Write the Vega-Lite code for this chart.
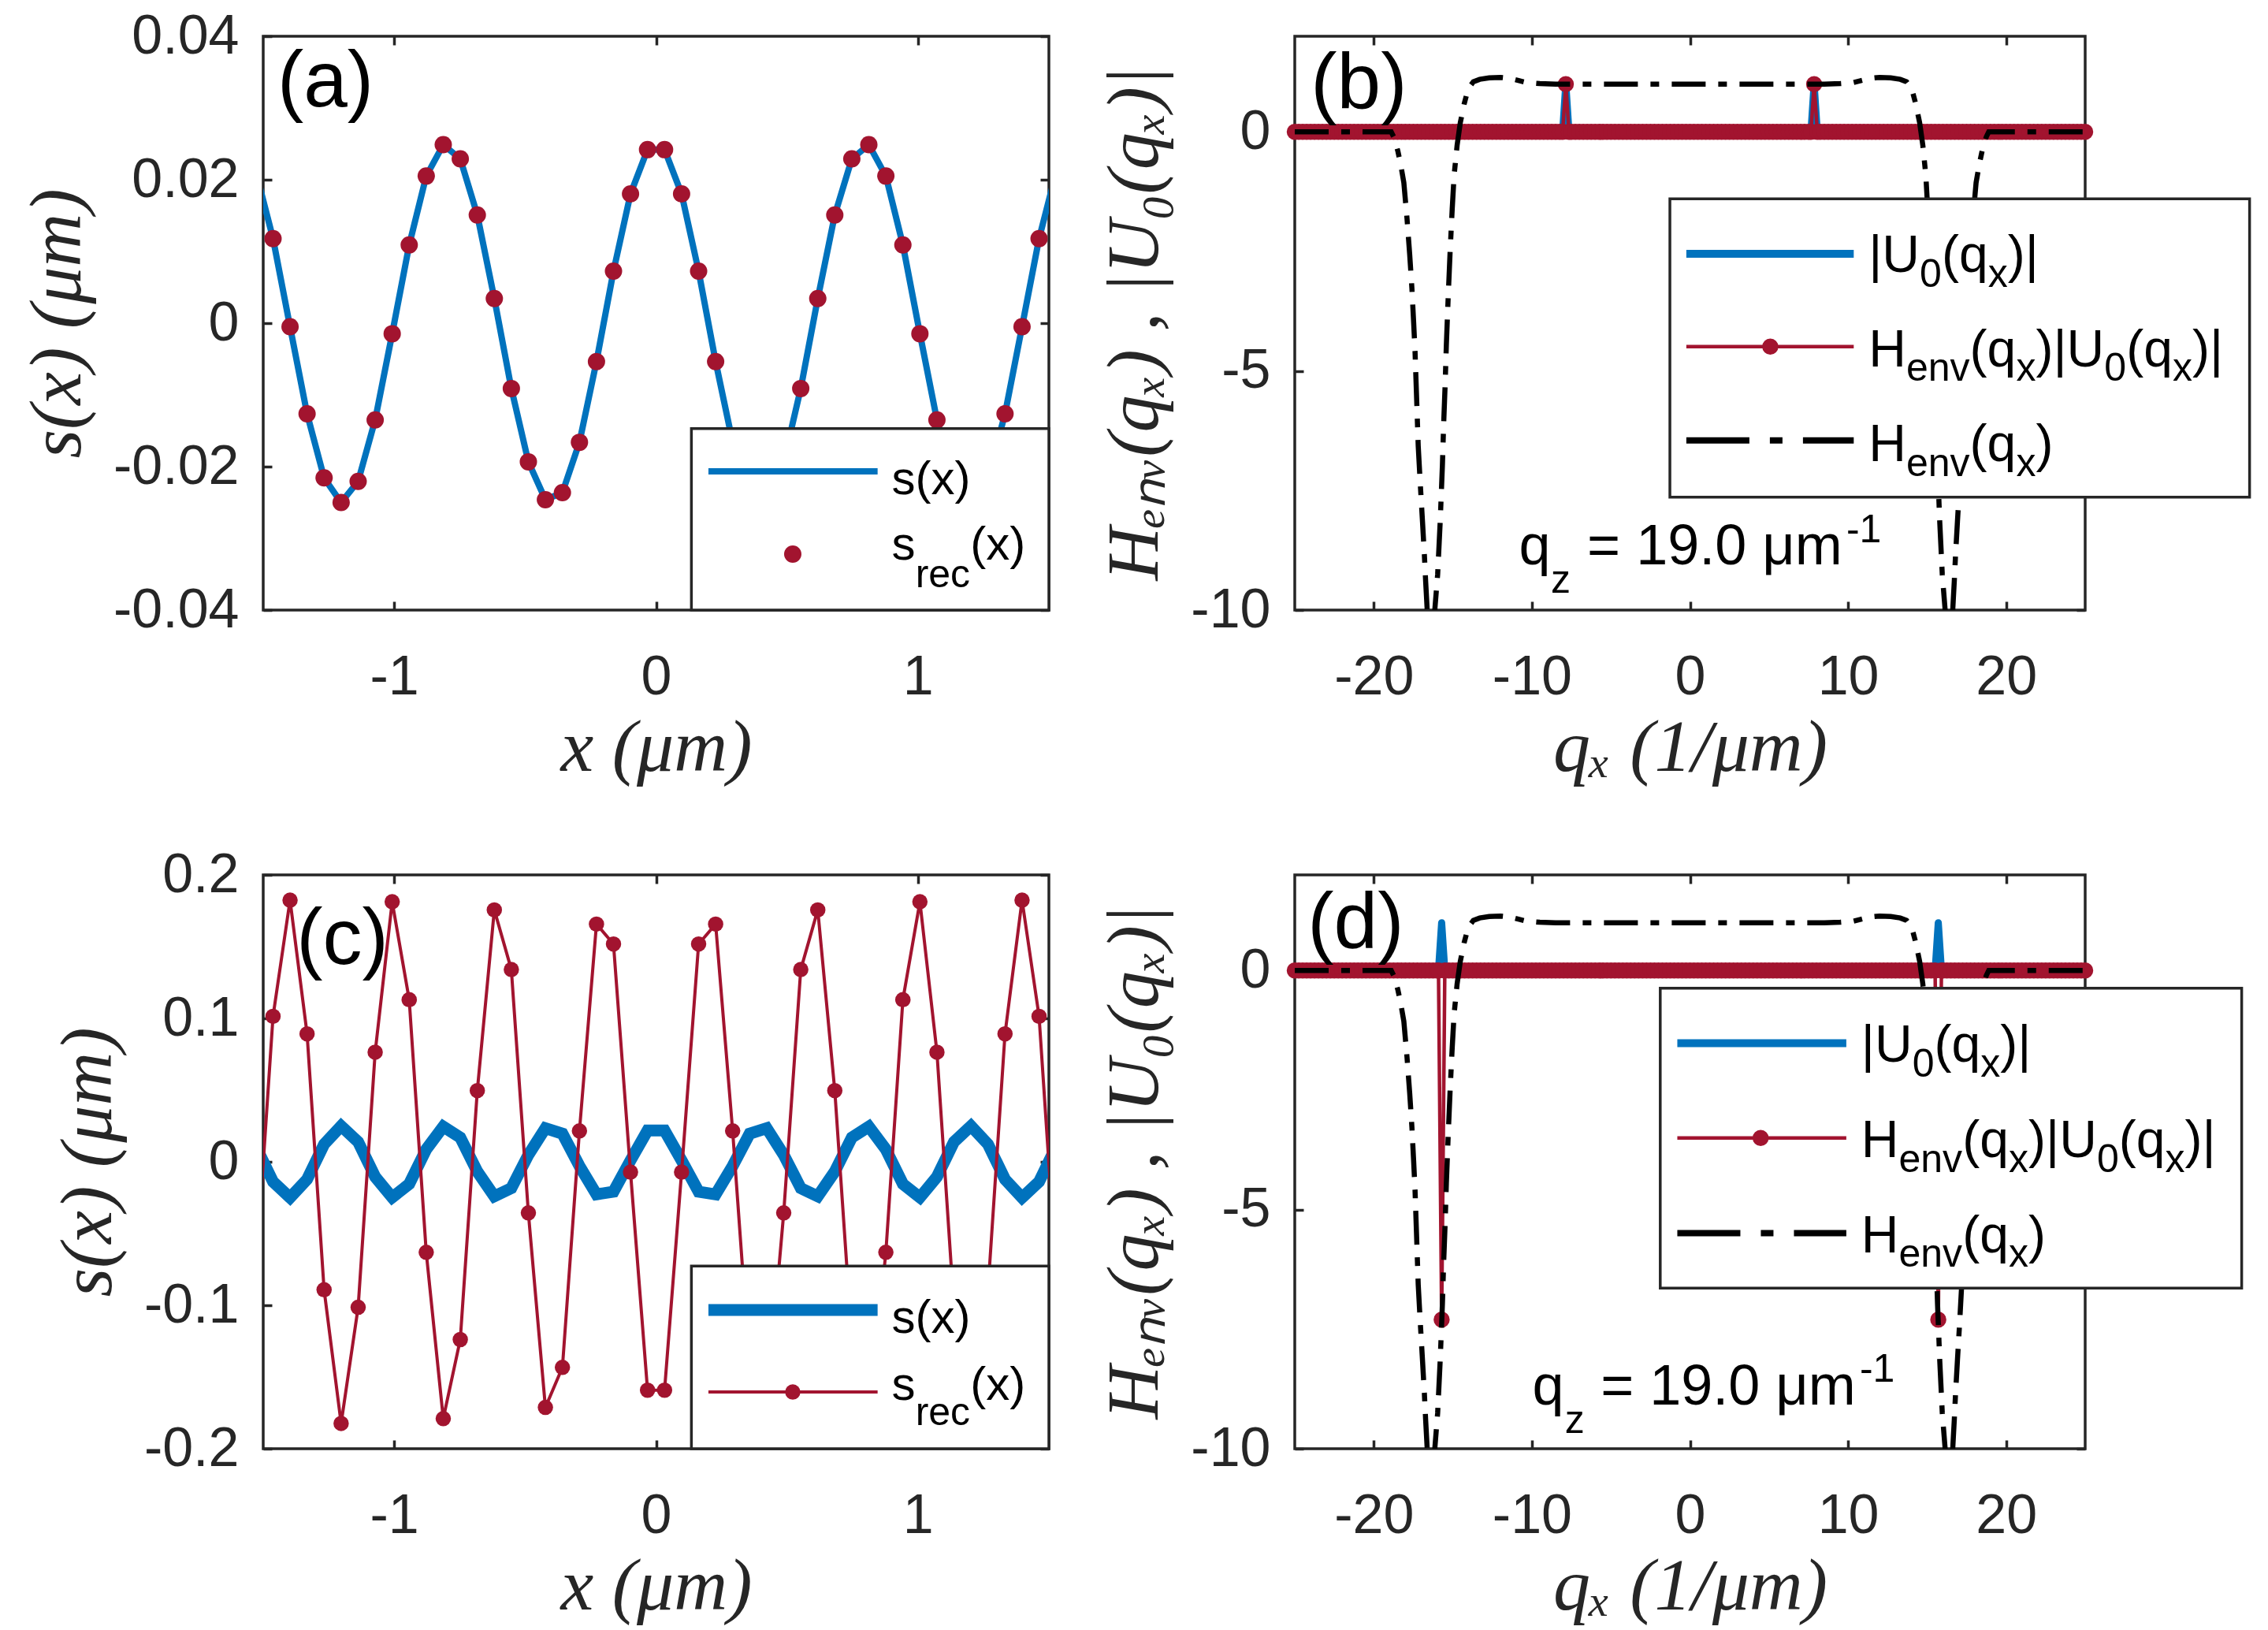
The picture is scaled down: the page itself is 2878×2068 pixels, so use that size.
{
"$schema": "https://vega.github.io/schema/vega-lite/v6.json",
"autosize": {"type": "none"},
"padding": {"left": 334, "top": 46, "right": 2544, "bottom": 2022},
"background": "white",
"columns": 2,
"spacing": {"row": 336, "column": 312},
"bounds": "flush",
"align": "each",
"config": {
  "view": {"stroke": "#262626", "strokeWidth": 3.5},
  "axis": {"domain": false, "grid": false, "ticks": true, "tickSize": -11, "tickWidth": 3.5, "tickColor": "#262626",
    "labelFont": "Liberation Sans", "labelFontSize": 70, "labelColor": "#262626", "labelFlush": false, "labelOverlap": false, "labelBound": false,
    "titleFont": "Liberation Serif", "titleFontStyle": "italic", "titleFontWeight": "normal", "titleFontSize": 94, "titleColor": "#262626"},
  "axisX": {"labelPadding": 62, "titlePadding": 9},
  "axisY": {"labelPadding": 42, "titlePadding": 22},
  "text": {"font": "Liberation Sans", "align": "left", "baseline": "alphabetic", "color": "black"},
  "circle": {"opacity": 1}
},
"datasets": {
  "sa": [{"x":-1.5275,"s":0.02106},{"x":-1.4625,"s":0.01179},{"x":-1.3975,"s":-0.00049},{"x":-1.3325,"s":-0.01264},{"x":-1.2675,"s":-0.02157},{"x":-1.2025,"s":-0.025},{"x":-1.1375,"s":-0.02205},{"x":-1.0725,"s":-0.01348},{"x":-1.0075,"s":-0.00147},{"x":-0.9425,"s":0.01091},{"x":-0.8775,"s":0.02051},{"x":-0.8125,"s":0.02488},{"x":-0.7475,"s":0.02291},{"x":-0.6825,"s":0.01509},{"x":-0.6175,"s":0.00343},{"x":-0.5525,"s":-0.00911},{"x":-0.4875,"s":-0.01933},{"x":-0.4225,"s":-0.02461},{"x":-0.3575,"s":-0.02362},{"x":-0.2925,"s":-0.01661},{"x":-0.2275,"s":-0.00536},{"x":-0.1625,"s":0.00726},{"x":-0.0975,"s":0.01802},{"x":-0.0325,"s":0.02419},
    {"x":0.0325,"s":0.02419},{"x":0.0975,"s":0.01802},{"x":0.1625,"s":0.00726},{"x":0.2275,"s":-0.00536},{"x":0.2925,"s":-0.01661},{"x":0.3575,"s":-0.02362},{"x":0.4225,"s":-0.02461},{"x":0.4875,"s":-0.01933},{"x":0.5525,"s":-0.00911},{"x":0.6175,"s":0.00343},{"x":0.6825,"s":0.01509},{"x":0.7475,"s":0.02291},{"x":0.8125,"s":0.02488},{"x":0.8775,"s":0.02051},{"x":0.9425,"s":0.01091},{"x":1.0075,"s":-0.00147},{"x":1.0725,"s":-0.01348},{"x":1.1375,"s":-0.02205},{"x":1.2025,"s":-0.025},{"x":1.2675,"s":-0.02157},{"x":1.3325,"s":-0.01264},{"x":1.3975,"s":-0.00049},{"x":1.4625,"s":0.01179},{"x":1.5275,"s":0.02106}],
  "sc": [{"x":-1.5275,"s":0.01047,"r":-0.0764},{"x":-1.4625,"s":-0.01389,"r":0.1014},{"x":-1.3975,"s":-0.02498,"r":0.1824},{"x":-1.3325,"s":-0.01222,"r":0.0892},{"x":-1.2675,"s":0.01222,"r":-0.0892},{"x":-1.2025,"s":0.02498,"r":-0.1824},{"x":-1.1375,"s":0.01389,"r":-0.1014},{"x":-1.0725,"s":-0.01047,"r":0.0764},{"x":-1.0075,"s":-0.02483,"r":0.1813},{"x":-0.9425,"s":-0.01548,"r":0.113},{"x":-0.8775,"s":0.00865,"r":-0.0631},{"x":-0.8125,"s":0.02452,"r":-0.179},{"x":-0.7475,"s":0.01697,"r":-0.1239},{"x":-0.6825,"s":-0.00679,"r":0.0496},{"x":-0.6175,"s":-0.02406,"r":0.1756},{"x":-0.5525,"s":-0.01836,"r":0.134},{"x":-0.4875,"s":0.00488,"r":-0.0356},{"x":-0.4225,"s":0.02345,"r":-0.1712},{"x":-0.3575,"s":0.01963,"r":-0.1433},{"x":-0.2925,"s":-0.00294,"r":0.0215},{"x":-0.2275,"s":-0.0227,"r":0.1657},{"x":-0.1625,"s":-0.02079,"r":0.1518},{"x":-0.0975,"s":0.00098,"r":-0.0072},{"x":-0.0325,"s":0.02181,"r":-0.1592},
    {"x":0.0325,"s":0.02181,"r":-0.1592},{"x":0.0975,"s":0.00098,"r":-0.0072},{"x":0.1625,"s":-0.02079,"r":0.1518},{"x":0.2275,"s":-0.0227,"r":0.1657},{"x":0.2925,"s":-0.00294,"r":0.0215},{"x":0.3575,"s":0.01963,"r":-0.1433},{"x":0.4225,"s":0.02345,"r":-0.1712},{"x":0.4875,"s":0.00488,"r":-0.0356},{"x":0.5525,"s":-0.01836,"r":0.134},{"x":0.6175,"s":-0.02406,"r":0.1756},{"x":0.6825,"s":-0.00679,"r":0.0496},{"x":0.7475,"s":0.01697,"r":-0.1239},{"x":0.8125,"s":0.02452,"r":-0.179},{"x":0.8775,"s":0.00865,"r":-0.0631},{"x":0.9425,"s":-0.01548,"r":0.113},{"x":1.0075,"s":-0.02483,"r":0.1813},{"x":1.0725,"s":-0.01047,"r":0.0764},{"x":1.1375,"s":0.01389,"r":-0.1014},{"x":1.2025,"s":0.02498,"r":-0.1824},{"x":1.2675,"s":0.01222,"r":-0.0892},{"x":1.3325,"s":-0.01222,"r":0.0892},{"x":1.3975,"s":-0.02498,"r":0.1824},{"x":1.4625,"s":-0.01389,"r":0.1014},{"x":1.5275,"s":0.01047,"r":-0.0764}],
  "hq": [{"q":-25,"H":0},{"q":-18.9,"H":0},{"q":-18.75,"H":-0.1},{"q":-18.6,"H":-0.25},{"q":-18.48,"H":-0.4},{"q":-18.3,"H":-0.68},{"q":-18.1,"H":-1.06},{"q":-17.9,"H":-1.81},{"q":-17.73,"H":-2.56},{"q":-17.59,"H":-3.27},{"q":-17.48,"H":-3.98},{"q":-17.39,"H":-4.61},{"q":-17.31,"H":-5.39},{"q":-17.19,"H":-6.57},{"q":-17.06,"H":-7.36},{"q":-16.92,"H":-8.15},{"q":-16.8,"H":-8.85},{"q":-16.72,"H":-9.4},{"q":-16.63,"H":-9.95},{"q":-16.42,"H":-11.2},{"q":-16.13,"H":-9.95},{"q":-15.96,"H":-9.25},{"q":-15.8,"H":-8.15},{"q":-15.66,"H":-6.97},{"q":-15.58,"H":-6.1},{"q":-15.49,"H":-5.31},{"q":-15.41,"H":-4.45},{"q":-15.29,"H":-3.42},{"q":-15.17,"H":-2.48},{"q":-15.04,"H":-1.61},{"q":-14.92,"H":-0.91},{"q":-14.73,"H":-0.28},{"q":-14.53,"H":0.19},{"q":-14.28,"H":0.59},{"q":-14.03,"H":0.9},{"q":-13.7,"H":1.05},{"q":-13.3,"H":1.1},{"q":-12.7,"H":1.13},{"q":-12,"H":1.14},{"q":-11.4,"H":1.12},{"q":-10.8,"H":1.07},{"q":-10.3,"H":1.03},{"q":-9.5,"H":1.01},{"q":-8.5,"H":1},{"q":0,"H":1},
    {"q":8.5,"H":1},{"q":9.5,"H":1.01},{"q":10.3,"H":1.03},{"q":10.8,"H":1.07},{"q":11.4,"H":1.12},{"q":12,"H":1.14},{"q":12.7,"H":1.13},{"q":13.3,"H":1.1},{"q":13.7,"H":1.05},{"q":14.03,"H":0.9},{"q":14.28,"H":0.59},{"q":14.53,"H":0.19},{"q":14.73,"H":-0.28},{"q":14.92,"H":-0.91},{"q":15.04,"H":-1.61},{"q":15.17,"H":-2.48},{"q":15.29,"H":-3.42},{"q":15.41,"H":-4.45},{"q":15.49,"H":-5.31},{"q":15.58,"H":-6.1},{"q":15.66,"H":-6.97},{"q":15.8,"H":-8.15},{"q":15.96,"H":-9.25},{"q":16.13,"H":-9.95},{"q":16.42,"H":-11.2},{"q":16.63,"H":-9.95},{"q":16.72,"H":-9.4},{"q":16.8,"H":-8.85},{"q":16.92,"H":-8.15},{"q":17.06,"H":-7.36},{"q":17.19,"H":-6.57},{"q":17.31,"H":-5.39},{"q":17.39,"H":-4.61},{"q":17.48,"H":-3.98},{"q":17.59,"H":-3.27},{"q":17.73,"H":-2.56},{"q":17.9,"H":-1.81},{"q":18.1,"H":-1.06},{"q":18.3,"H":-0.68},{"q":18.48,"H":-0.4},{"q":18.6,"H":-0.25},{"q":18.75,"H":-0.1},{"q":18.9,"H":0},{"q":25,"H":0}],
  "qb": [{"q":-25,"u":0,"h":0},{"q":-24.75,"u":0,"h":0},{"q":-24.5,"u":0,"h":0},{"q":-24.25,"u":0,"h":0},{"q":-24,"u":0,"h":0},{"q":-23.75,"u":0,"h":0},{"q":-23.5,"u":0,"h":0},{"q":-23.25,"u":0,"h":0},{"q":-23,"u":0,"h":0},{"q":-22.75,"u":0,"h":0},{"q":-22.5,"u":0,"h":0},{"q":-22.25,"u":0,"h":0},{"q":-22,"u":0,"h":0},{"q":-21.75,"u":0,"h":0},{"q":-21.5,"u":0,"h":0},{"q":-21.25,"u":0,"h":0},{"q":-21,"u":0,"h":0},{"q":-20.75,"u":0,"h":0},{"q":-20.5,"u":0,"h":0},{"q":-20.25,"u":0,"h":0},{"q":-20,"u":0,"h":0},{"q":-19.75,"u":0,"h":0},{"q":-19.5,"u":0,"h":0},{"q":-19.25,"u":0,"h":0},{"q":-19,"u":0,"h":0},{"q":-18.75,"u":0,"h":0},{"q":-18.5,"u":0,"h":0},{"q":-18.25,"u":0,"h":0},{"q":-18,"u":0,"h":0},{"q":-17.75,"u":0,"h":0},{"q":-17.5,"u":0,"h":0},{"q":-17.25,"u":0,"h":0},{"q":-17,"u":0,"h":0},{"q":-16.75,"u":0,"h":0},{"q":-16.5,"u":0,"h":0},{"q":-16.25,"u":0,"h":0},{"q":-16,"u":0,"h":0},{"q":-15.75,"u":0,"h":0},{"q":-15.5,"u":0,"h":0},{"q":-15.25,"u":0,"h":0},{"q":-15,"u":0,"h":0},{"q":-14.75,"u":0,"h":0},{"q":-14.5,"u":0,"h":0},{"q":-14.25,"u":0,"h":0},{"q":-14,"u":0,"h":0},{"q":-13.75,"u":0,"h":0},{"q":-13.5,"u":0,"h":0},{"q":-13.25,"u":0,"h":0},{"q":-13,"u":0,"h":0},{"q":-12.75,"u":0,"h":0},{"q":-12.5,"u":0,"h":0},{"q":-12.25,"u":0,"h":0},{"q":-12,"u":0,"h":0},{"q":-11.75,"u":0,"h":0},{"q":-11.5,"u":0,"h":0},{"q":-11.25,"u":0,"h":0},{"q":-11,"u":0,"h":0},{"q":-10.75,"u":0,"h":0},{"q":-10.5,"u":0,"h":0},{"q":-10.25,"u":0,"h":0},{"q":-10,"u":0,"h":0},{"q":-9.75,"u":0,"h":0},{"q":-9.5,"u":0,"h":0},{"q":-9.25,"u":0,"h":0},{"q":-9,"u":0,"h":0},{"q":-8.75,"u":0,"h":0},{"q":-8.5,"u":0,"h":0},{"q":-8.25,"u":0,"h":0},
    {"q":-8.054,"u":0,"h":0},{"q":-7.854,"u":1,"h":1},{"q":-7.654,"u":0,"h":0},
    {"q":-7.5,"u":0,"h":0},{"q":-7.25,"u":0,"h":0},{"q":-7,"u":0,"h":0},{"q":-6.75,"u":0,"h":0},{"q":-6.5,"u":0,"h":0},{"q":-6.25,"u":0,"h":0},{"q":-6,"u":0,"h":0},{"q":-5.75,"u":0,"h":0},{"q":-5.5,"u":0,"h":0},{"q":-5.25,"u":0,"h":0},{"q":-5,"u":0,"h":0},{"q":-4.75,"u":0,"h":0},{"q":-4.5,"u":0,"h":0},{"q":-4.25,"u":0,"h":0},{"q":-4,"u":0,"h":0},{"q":-3.75,"u":0,"h":0},{"q":-3.5,"u":0,"h":0},{"q":-3.25,"u":0,"h":0},{"q":-3,"u":0,"h":0},{"q":-2.75,"u":0,"h":0},{"q":-2.5,"u":0,"h":0},{"q":-2.25,"u":0,"h":0},{"q":-2,"u":0,"h":0},{"q":-1.75,"u":0,"h":0},{"q":-1.5,"u":0,"h":0},{"q":-1.25,"u":0,"h":0},{"q":-1,"u":0,"h":0},{"q":-0.75,"u":0,"h":0},{"q":-0.5,"u":0,"h":0},{"q":-0.25,"u":0,"h":0},{"q":0,"u":0,"h":0},{"q":0.25,"u":0,"h":0},{"q":0.5,"u":0,"h":0},{"q":0.75,"u":0,"h":0},{"q":1,"u":0,"h":0},{"q":1.25,"u":0,"h":0},{"q":1.5,"u":0,"h":0},{"q":1.75,"u":0,"h":0},{"q":2,"u":0,"h":0},{"q":2.25,"u":0,"h":0},{"q":2.5,"u":0,"h":0},{"q":2.75,"u":0,"h":0},{"q":3,"u":0,"h":0},{"q":3.25,"u":0,"h":0},{"q":3.5,"u":0,"h":0},{"q":3.75,"u":0,"h":0},{"q":4,"u":0,"h":0},{"q":4.25,"u":0,"h":0},{"q":4.5,"u":0,"h":0},{"q":4.75,"u":0,"h":0},{"q":5,"u":0,"h":0},{"q":5.25,"u":0,"h":0},{"q":5.5,"u":0,"h":0},{"q":5.75,"u":0,"h":0},{"q":6,"u":0,"h":0},{"q":6.25,"u":0,"h":0},{"q":6.5,"u":0,"h":0},{"q":6.75,"u":0,"h":0},{"q":7,"u":0,"h":0},{"q":7.25,"u":0,"h":0},{"q":7.5,"u":0,"h":0},
    {"q":7.654,"u":0,"h":0},{"q":7.854,"u":1,"h":1},{"q":8.054,"u":0,"h":0},
    {"q":8.25,"u":0,"h":0},{"q":8.5,"u":0,"h":0},{"q":8.75,"u":0,"h":0},{"q":9,"u":0,"h":0},{"q":9.25,"u":0,"h":0},{"q":9.5,"u":0,"h":0},{"q":9.75,"u":0,"h":0},{"q":10,"u":0,"h":0},{"q":10.25,"u":0,"h":0},{"q":10.5,"u":0,"h":0},{"q":10.75,"u":0,"h":0},{"q":11,"u":0,"h":0},{"q":11.25,"u":0,"h":0},{"q":11.5,"u":0,"h":0},{"q":11.75,"u":0,"h":0},{"q":12,"u":0,"h":0},{"q":12.25,"u":0,"h":0},{"q":12.5,"u":0,"h":0},{"q":12.75,"u":0,"h":0},{"q":13,"u":0,"h":0},{"q":13.25,"u":0,"h":0},{"q":13.5,"u":0,"h":0},{"q":13.75,"u":0,"h":0},{"q":14,"u":0,"h":0},{"q":14.25,"u":0,"h":0},{"q":14.5,"u":0,"h":0},{"q":14.75,"u":0,"h":0},{"q":15,"u":0,"h":0},{"q":15.25,"u":0,"h":0},{"q":15.5,"u":0,"h":0},{"q":15.75,"u":0,"h":0},{"q":16,"u":0,"h":0},{"q":16.25,"u":0,"h":0},{"q":16.5,"u":0,"h":0},{"q":16.75,"u":0,"h":0},{"q":17,"u":0,"h":0},{"q":17.25,"u":0,"h":0},{"q":17.5,"u":0,"h":0},{"q":17.75,"u":0,"h":0},{"q":18,"u":0,"h":0},{"q":18.25,"u":0,"h":0},{"q":18.5,"u":0,"h":0},{"q":18.75,"u":0,"h":0},{"q":19,"u":0,"h":0},{"q":19.25,"u":0,"h":0},{"q":19.5,"u":0,"h":0},{"q":19.75,"u":0,"h":0},{"q":20,"u":0,"h":0},{"q":20.25,"u":0,"h":0},{"q":20.5,"u":0,"h":0},{"q":20.75,"u":0,"h":0},{"q":21,"u":0,"h":0},{"q":21.25,"u":0,"h":0},{"q":21.5,"u":0,"h":0},{"q":21.75,"u":0,"h":0},{"q":22,"u":0,"h":0},{"q":22.25,"u":0,"h":0},{"q":22.5,"u":0,"h":0},{"q":22.75,"u":0,"h":0},{"q":23,"u":0,"h":0},{"q":23.25,"u":0,"h":0},{"q":23.5,"u":0,"h":0},{"q":23.75,"u":0,"h":0},{"q":24,"u":0,"h":0},{"q":24.25,"u":0,"h":0},{"q":24.5,"u":0,"h":0},{"q":24.75,"u":0,"h":0},{"q":25,"u":0,"h":0}],
  "qd": [{"q":-25,"u":0,"h":0},{"q":-24.75,"u":0,"h":0},{"q":-24.5,"u":0,"h":0},{"q":-24.25,"u":0,"h":0},{"q":-24,"u":0,"h":0},{"q":-23.75,"u":0,"h":0},{"q":-23.5,"u":0,"h":0},{"q":-23.25,"u":0,"h":0},{"q":-23,"u":0,"h":0},{"q":-22.75,"u":0,"h":0},{"q":-22.5,"u":0,"h":0},{"q":-22.25,"u":0,"h":0},{"q":-22,"u":0,"h":0},{"q":-21.75,"u":0,"h":0},{"q":-21.5,"u":0,"h":0},{"q":-21.25,"u":0,"h":0},{"q":-21,"u":0,"h":0},{"q":-20.75,"u":0,"h":0},{"q":-20.5,"u":0,"h":0},{"q":-20.25,"u":0,"h":0},{"q":-20,"u":0,"h":0},{"q":-19.75,"u":0,"h":0},{"q":-19.5,"u":0,"h":0},{"q":-19.25,"u":0,"h":0},{"q":-19,"u":0,"h":0},{"q":-18.75,"u":0,"h":0},{"q":-18.5,"u":0,"h":0},{"q":-18.25,"u":0,"h":0},{"q":-18,"u":0,"h":0},{"q":-17.75,"u":0,"h":0},{"q":-17.5,"u":0,"h":0},{"q":-17.25,"u":0,"h":0},{"q":-17,"u":0,"h":0},{"q":-16.75,"u":0,"h":0},{"q":-16.5,"u":0,"h":0},{"q":-16.25,"u":0,"h":0},{"q":-16,"u":0,"h":0},
    {"q":-15.908,"u":0,"h":0},{"q":-15.708,"u":1,"h":-7.3},{"q":-15.508,"u":0,"h":0},
    {"q":-15.25,"u":0,"h":0},{"q":-15,"u":0,"h":0},{"q":-14.75,"u":0,"h":0},{"q":-14.5,"u":0,"h":0},{"q":-14.25,"u":0,"h":0},{"q":-14,"u":0,"h":0},{"q":-13.75,"u":0,"h":0},{"q":-13.5,"u":0,"h":0},{"q":-13.25,"u":0,"h":0},{"q":-13,"u":0,"h":0},{"q":-12.75,"u":0,"h":0},{"q":-12.5,"u":0,"h":0},{"q":-12.25,"u":0,"h":0},{"q":-12,"u":0,"h":0},{"q":-11.75,"u":0,"h":0},{"q":-11.5,"u":0,"h":0},{"q":-11.25,"u":0,"h":0},{"q":-11,"u":0,"h":0},{"q":-10.75,"u":0,"h":0},{"q":-10.5,"u":0,"h":0},{"q":-10.25,"u":0,"h":0},{"q":-10,"u":0,"h":0},{"q":-9.75,"u":0,"h":0},{"q":-9.5,"u":0,"h":0},{"q":-9.25,"u":0,"h":0},{"q":-9,"u":0,"h":0},{"q":-8.75,"u":0,"h":0},{"q":-8.5,"u":0,"h":0},{"q":-8.25,"u":0,"h":0},{"q":-8,"u":0,"h":0},{"q":-7.75,"u":0,"h":0},{"q":-7.5,"u":0,"h":0},{"q":-7.25,"u":0,"h":0},{"q":-7,"u":0,"h":0},{"q":-6.75,"u":0,"h":0},{"q":-6.5,"u":0,"h":0},{"q":-6.25,"u":0,"h":0},{"q":-6,"u":0,"h":0},{"q":-5.75,"u":0,"h":0},{"q":-5.5,"u":0,"h":0},{"q":-5.25,"u":0,"h":0},{"q":-5,"u":0,"h":0},{"q":-4.75,"u":0,"h":0},{"q":-4.5,"u":0,"h":0},{"q":-4.25,"u":0,"h":0},{"q":-4,"u":0,"h":0},{"q":-3.75,"u":0,"h":0},{"q":-3.5,"u":0,"h":0},{"q":-3.25,"u":0,"h":0},{"q":-3,"u":0,"h":0},{"q":-2.75,"u":0,"h":0},{"q":-2.5,"u":0,"h":0},{"q":-2.25,"u":0,"h":0},{"q":-2,"u":0,"h":0},{"q":-1.75,"u":0,"h":0},{"q":-1.5,"u":0,"h":0},{"q":-1.25,"u":0,"h":0},{"q":-1,"u":0,"h":0},{"q":-0.75,"u":0,"h":0},{"q":-0.5,"u":0,"h":0},{"q":-0.25,"u":0,"h":0},{"q":0,"u":0,"h":0},{"q":0.25,"u":0,"h":0},{"q":0.5,"u":0,"h":0},{"q":0.75,"u":0,"h":0},{"q":1,"u":0,"h":0},{"q":1.25,"u":0,"h":0},{"q":1.5,"u":0,"h":0},{"q":1.75,"u":0,"h":0},{"q":2,"u":0,"h":0},{"q":2.25,"u":0,"h":0},{"q":2.5,"u":0,"h":0},{"q":2.75,"u":0,"h":0},{"q":3,"u":0,"h":0},{"q":3.25,"u":0,"h":0},{"q":3.5,"u":0,"h":0},{"q":3.75,"u":0,"h":0},{"q":4,"u":0,"h":0},{"q":4.25,"u":0,"h":0},{"q":4.5,"u":0,"h":0},{"q":4.75,"u":0,"h":0},{"q":5,"u":0,"h":0},{"q":5.25,"u":0,"h":0},{"q":5.5,"u":0,"h":0},{"q":5.75,"u":0,"h":0},{"q":6,"u":0,"h":0},{"q":6.25,"u":0,"h":0},{"q":6.5,"u":0,"h":0},{"q":6.75,"u":0,"h":0},{"q":7,"u":0,"h":0},{"q":7.25,"u":0,"h":0},{"q":7.5,"u":0,"h":0},{"q":7.75,"u":0,"h":0},{"q":8,"u":0,"h":0},{"q":8.25,"u":0,"h":0},{"q":8.5,"u":0,"h":0},{"q":8.75,"u":0,"h":0},{"q":9,"u":0,"h":0},{"q":9.25,"u":0,"h":0},{"q":9.5,"u":0,"h":0},{"q":9.75,"u":0,"h":0},{"q":10,"u":0,"h":0},{"q":10.25,"u":0,"h":0},{"q":10.5,"u":0,"h":0},{"q":10.75,"u":0,"h":0},{"q":11,"u":0,"h":0},{"q":11.25,"u":0,"h":0},{"q":11.5,"u":0,"h":0},{"q":11.75,"u":0,"h":0},{"q":12,"u":0,"h":0},{"q":12.25,"u":0,"h":0},{"q":12.5,"u":0,"h":0},{"q":12.75,"u":0,"h":0},{"q":13,"u":0,"h":0},{"q":13.25,"u":0,"h":0},{"q":13.5,"u":0,"h":0},{"q":13.75,"u":0,"h":0},{"q":14,"u":0,"h":0},{"q":14.25,"u":0,"h":0},{"q":14.5,"u":0,"h":0},{"q":14.75,"u":0,"h":0},{"q":15,"u":0,"h":0},{"q":15.25,"u":0,"h":0},
    {"q":15.508,"u":0,"h":0},{"q":15.708,"u":1,"h":-7.3},{"q":15.908,"u":0,"h":0},
    {"q":16,"u":0,"h":0},{"q":16.25,"u":0,"h":0},{"q":16.5,"u":0,"h":0},{"q":16.75,"u":0,"h":0},{"q":17,"u":0,"h":0},{"q":17.25,"u":0,"h":0},{"q":17.5,"u":0,"h":0},{"q":17.75,"u":0,"h":0},{"q":18,"u":0,"h":0},{"q":18.25,"u":0,"h":0},{"q":18.5,"u":0,"h":0},{"q":18.75,"u":0,"h":0},{"q":19,"u":0,"h":0},{"q":19.25,"u":0,"h":0},{"q":19.5,"u":0,"h":0},{"q":19.75,"u":0,"h":0},{"q":20,"u":0,"h":0},{"q":20.25,"u":0,"h":0},{"q":20.5,"u":0,"h":0},{"q":20.75,"u":0,"h":0},{"q":21,"u":0,"h":0},{"q":21.25,"u":0,"h":0},{"q":21.5,"u":0,"h":0},{"q":21.75,"u":0,"h":0},{"q":22,"u":0,"h":0},{"q":22.25,"u":0,"h":0},{"q":22.5,"u":0,"h":0},{"q":22.75,"u":0,"h":0},{"q":23,"u":0,"h":0},{"q":23.25,"u":0,"h":0},{"q":23.5,"u":0,"h":0},{"q":23.75,"u":0,"h":0},{"q":24,"u":0,"h":0},{"q":24.25,"u":0,"h":0},{"q":24.5,"u":0,"h":0},{"q":24.75,"u":0,"h":0},{"q":25,"u":0,"h":0}]
},
"concat": [
 {
  "width": 997, "height": 728,
  "data": {"values": [{}]},
  "layer": [
   {"data": {"name": "sa"},
    "mark": {"type": "line", "color": "#0072BD", "strokeWidth": 8, "clip": true},
    "encoding": {
     "x": {"field": "x", "type": "quantitative", "scale": {"domain": [-1.5, 1.5], "nice": false, "zero": false},
       "axis": {"values": [-1, 0, 1], "title": "x (μm)", "labelExpr": "datum.value < 0 ? '-' + format(-datum.value, '~g') : format(datum.value, '~g')"}},
     "y": {"field": "s", "type": "quantitative", "scale": {"domain": [-0.04, 0.04], "nice": false, "zero": false},
       "axis": {"values": [-0.04, -0.02, 0, 0.02, 0.04], "title": "s(x) (μm)", "labelExpr": "datum.value < 0 ? '-' + format(-datum.value, '~g') : format(datum.value, '~g')"}}
    }},
   {"data": {"name": "sa"},
    "transform": [{"filter": "abs(datum.x) < 1.5"}],
    "mark": {"type": "circle", "color": "#A2142F", "size": 484, "opacity": 1},
    "encoding": {
     "x": {"field": "x", "type": "quantitative", "axis": {"orient": "top", "values": [-1, 0, 1], "labels": false, "title": null}},
     "y": {"field": "s", "type": "quantitative", "axis": {"orient": "right", "values": [-0.04, -0.02, 0, 0.02, 0.04], "labels": false, "title": null}}
    }},
   {"mark": {"type": "rect", "fill": "white", "stroke": "#262626", "strokeWidth": 3.5},
    "encoding": {"x": {"datum": 0.135, "axis": null}, "x2": {"datum": 1.5}, "y": {"datum": -0.04, "axis": null}, "y2": {"datum": -0.0147}}},
   {"mark": {"type": "rule", "color": "#0072BD", "strokeWidth": 8},
    "encoding": {"x": {"datum": 0.2, "axis": null}, "x2": {"datum": 0.846}, "y": {"datum": -0.02065, "axis": null}}},
   {"mark": {"type": "circle", "color": "#A2142F", "size": 484, "opacity": 1},
    "encoding": {"x": {"datum": 0.522, "axis": null}, "y": {"datum": -0.0322, "axis": null}}},
   {"mark": {"type": "text", "text": "s(x)", "fontSize": 60}, "encoding": {"x": {"datum": 0.9, "axis": null}, "y": {"datum": -0.0239, "axis": null}}},
   {"mark": {"type": "text", "text": "s", "fontSize": 60}, "encoding": {"x": {"datum": 0.9, "axis": null}, "y": {"datum": -0.033, "axis": null}}},
   {"mark": {"type": "text", "text": "rec", "fontSize": 50}, "encoding": {"x": {"datum": 0.9904, "axis": null}, "y": {"datum": -0.0368, "axis": null}}},
   {"mark": {"type": "text", "text": "(x)", "fontSize": 60}, "encoding": {"x": {"datum": 1.1997, "axis": null}, "y": {"datum": -0.033, "axis": null}}},
   {"mark": {"type": "text", "text": "(a)", "fontSize": 100}, "encoding": {"x": {"datum": -1.446, "axis": null}, "y": {"datum": 0.0302, "axis": null}}}
  ],
  "resolve": {"axis": {"x": "independent", "y": "independent"}}
 },
 {
  "width": 1003, "height": 728,
  "data": {"values": [{}]},
  "layer": [
   {"data": {"name": "qb"},
    "mark": {"type": "line", "color": "#0072BD", "strokeWidth": 9, "strokeJoin": "round", "strokeCap": "round"},
    "encoding": {
     "x": {"field": "q", "type": "quantitative", "scale": {"domain": [-25, 25], "nice": false, "zero": false},
       "axis": {"values": [-20, -10, 0, 10, 20], "title": "qₓ (1/μm)", "labelExpr": "datum.value < 0 ? '-' + format(-datum.value, '~g') : format(datum.value, '~g')"}},
     "y": {"field": "u", "type": "quantitative", "scale": {"domain": [-10, 2], "nice": false, "zero": false},
       "axis": {"values": [-10, -5, 0], "title": "Hₑₙᵥ(qₓ) , |U₀(qₓ)|", "labelExpr": "datum.value < 0 ? '-' + format(-datum.value, '~g') : format(datum.value, '~g')"}}
    }},
   {"data": {"name": "qb"},
    "mark": {"type": "line", "color": "#A2142F", "strokeWidth": 4.5},
    "encoding": {
     "x": {"field": "q", "type": "quantitative", "axis": {"orient": "top", "values": [-20, -10, 0, 10, 20], "labels": false, "title": null}},
     "y": {"field": "h", "type": "quantitative", "axis": {"orient": "right", "values": [-10, -5, 0], "labels": false, "title": null}}
    }},
   {"data": {"name": "qb"},
    "mark": {"type": "circle", "color": "#A2142F", "size": 420, "opacity": 1},
    "encoding": {"x": {"field": "q", "type": "quantitative", "axis": null}, "y": {"field": "h", "type": "quantitative", "axis": null}}},
   {"data": {"name": "hq"},
    "mark": {"type": "line", "color": "black", "strokeWidth": 6.5, "strokeDash": [43, 16, 11, 16], "clip": true},
    "encoding": {"x": {"field": "q", "type": "quantitative", "axis": null}, "y": {"field": "H", "type": "quantitative", "axis": null}}},
   {"mark": {"type": "rect", "fill": "white", "stroke": "#262626", "strokeWidth": 3.5},
    "encoding": {"x": {"datum": -1.27, "axis": null}, "x2": {"datum": 35.4}, "y": {"datum": -7.64, "axis": null}, "y2": {"datum": -1.4}}},
   {"mark": {"type": "rule", "color": "#0072BD", "strokeWidth": 10},
    "encoding": {"x": {"datum": -0.23, "axis": null}, "x2": {"datum": 10.36}, "y": {"datum": -2.55, "axis": null}}},
   {"mark": {"type": "rule", "color": "#A2142F", "strokeWidth": 4.5},
    "encoding": {"x": {"datum": -0.23, "axis": null}, "x2": {"datum": 10.36}, "y": {"datum": -4.49, "axis": null}}},
   {"mark": {"type": "circle", "color": "#A2142F", "size": 420, "opacity": 1},
    "encoding": {"x": {"datum": 5.08, "axis": null}, "y": {"datum": -4.49, "axis": null}}},
   {"mark": {"type": "rule", "color": "black", "strokeWidth": 8, "strokeDash": [80, 26, 16, 26]},
    "encoding": {"x": {"datum": -0.23, "axis": null}, "x2": {"datum": 10.36}, "y": {"datum": -6.45, "axis": null}}},
   {"mark": {"type": "text", "text": "|U", "fontSize": 66}, "encoding": {"x": {"datum": 11.3, "axis": null}, "y": {"datum": -2.93, "axis": null}}},
   {"mark": {"type": "text", "text": "0", "fontSize": 50}, "encoding": {"x": {"datum": 14.535, "axis": null}, "y": {"datum": -3.24, "axis": null}}},
   {"mark": {"type": "text", "text": "(q", "fontSize": 66}, "encoding": {"x": {"datum": 15.923, "axis": null}, "y": {"datum": -2.93, "axis": null}}},
   {"mark": {"type": "text", "text": "x", "fontSize": 50}, "encoding": {"x": {"datum": 18.853, "axis": null}, "y": {"datum": -3.24, "axis": null}}},
   {"mark": {"type": "text", "text": ")|", "fontSize": 66}, "encoding": {"x": {"datum": 20.101, "axis": null}, "y": {"datum": -2.93, "axis": null}}},
   {"mark": {"type": "text", "text": "H", "fontSize": 66}, "encoding": {"x": {"datum": 11.3, "axis": null}, "y": {"datum": -4.9, "axis": null}}},
   {"mark": {"type": "text", "text": "env", "fontSize": 50}, "encoding": {"x": {"datum": 13.679, "axis": null}, "y": {"datum": -5.21, "axis": null}}},
   {"mark": {"type": "text", "text": "(q", "fontSize": 66}, "encoding": {"x": {"datum": 17.703, "axis": null}, "y": {"datum": -4.9, "axis": null}}},
   {"mark": {"type": "text", "text": "x", "fontSize": 50}, "encoding": {"x": {"datum": 20.633, "axis": null}, "y": {"datum": -5.21, "axis": null}}},
   {"mark": {"type": "text", "text": ")|U", "fontSize": 66}, "encoding": {"x": {"datum": 21.881, "axis": null}, "y": {"datum": -4.9, "axis": null}}},
   {"mark": {"type": "text", "text": "0", "fontSize": 50}, "encoding": {"x": {"datum": 26.214, "axis": null}, "y": {"datum": -5.21, "axis": null}}},
   {"mark": {"type": "text", "text": "(q", "fontSize": 66}, "encoding": {"x": {"datum": 27.602, "axis": null}, "y": {"datum": -4.9, "axis": null}}},
   {"mark": {"type": "text", "text": "x", "fontSize": 50}, "encoding": {"x": {"datum": 30.532, "axis": null}, "y": {"datum": -5.21, "axis": null}}},
   {"mark": {"type": "text", "text": ")|", "fontSize": 66}, "encoding": {"x": {"datum": 31.78, "axis": null}, "y": {"datum": -4.9, "axis": null}}},
   {"mark": {"type": "text", "text": "H", "fontSize": 66}, "encoding": {"x": {"datum": 11.3, "axis": null}, "y": {"datum": -6.88, "axis": null}}},
   {"mark": {"type": "text", "text": "env", "fontSize": 50}, "encoding": {"x": {"datum": 13.679, "axis": null}, "y": {"datum": -7.19, "axis": null}}},
   {"mark": {"type": "text", "text": "(q", "fontSize": 66}, "encoding": {"x": {"datum": 17.703, "axis": null}, "y": {"datum": -6.88, "axis": null}}},
   {"mark": {"type": "text", "text": "x", "fontSize": 50}, "encoding": {"x": {"datum": 20.633, "axis": null}, "y": {"datum": -7.19, "axis": null}}},
   {"mark": {"type": "text", "text": ")", "fontSize": 66}, "encoding": {"x": {"datum": 21.881, "axis": null}, "y": {"datum": -6.88, "axis": null}}},
   {"mark": {"type": "text", "text": "q", "fontSize": 72}, "encoding": {"x": {"datum": -10.82, "axis": null}, "y": {"datum": -9.05, "axis": null}}},
   {"mark": {"type": "text", "text": "z", "fontSize": 50}, "encoding": {"x": {"datum": -8.8, "axis": null}, "y": {"datum": -9.63, "axis": null}}},
   {"mark": {"type": "text", "text": "= 19.0 μm", "fontSize": 72}, "encoding": {"x": {"datum": -6.5, "axis": null}, "y": {"datum": -9.05, "axis": null}}},
   {"mark": {"type": "text", "text": "-1", "fontSize": 50}, "encoding": {"x": {"datum": 9.89, "axis": null}, "y": {"datum": -8.58, "axis": null}}},
   {"mark": {"type": "text", "text": "(b)", "fontSize": 100}, "encoding": {"x": {"datum": -23.99, "axis": null}, "y": {"datum": 0.49, "axis": null}}}
  ],
  "resolve": {"axis": {"x": "independent", "y": "independent"}}
 },
 {
  "width": 997, "height": 728,
  "data": {"values": [{}]},
  "layer": [
   {"data": {"name": "sc"},
    "mark": {"type": "line", "color": "#0072BD", "strokeWidth": 15, "clip": true},
    "encoding": {
     "x": {"field": "x", "type": "quantitative", "scale": {"domain": [-1.5, 1.5], "nice": false, "zero": false},
       "axis": {"values": [-1, 0, 1], "title": "x (μm)", "labelExpr": "datum.value < 0 ? '-' + format(-datum.value, '~g') : format(datum.value, '~g')"}},
     "y": {"field": "s", "type": "quantitative", "scale": {"domain": [-0.2, 0.2], "nice": false, "zero": false},
       "axis": {"values": [-0.2, -0.1, 0, 0.1, 0.2], "title": "s(x) (μm)", "labelExpr": "datum.value < 0 ? '-' + format(-datum.value, '~g') : format(datum.value, '~g')"}}
    }},
   {"data": {"name": "sc"},
    "mark": {"type": "line", "color": "#A2142F", "strokeWidth": 4, "clip": true},
    "encoding": {
     "x": {"field": "x", "type": "quantitative", "axis": {"orient": "top", "values": [-1, 0, 1], "labels": false, "title": null}},
     "y": {"field": "r", "type": "quantitative", "axis": {"orient": "right", "values": [-0.2, -0.1, 0, 0.1, 0.2], "labels": false, "title": null}}
    }},
   {"data": {"name": "sc"},
    "transform": [{"filter": "abs(datum.x) < 1.5"}],
    "mark": {"type": "circle", "color": "#A2142F", "size": 380, "opacity": 1},
    "encoding": {"x": {"field": "x", "type": "quantitative", "axis": null}, "y": {"field": "r", "type": "quantitative", "axis": null}}},
   {"mark": {"type": "rect", "fill": "white", "stroke": "#262626", "strokeWidth": 3.5},
    "encoding": {"x": {"datum": 0.135, "axis": null}, "x2": {"datum": 1.5}, "y": {"datum": -0.2, "axis": null}, "y2": {"datum": -0.0727}}},
   {"mark": {"type": "rule", "color": "#0072BD", "strokeWidth": 15},
    "encoding": {"x": {"datum": 0.2, "axis": null}, "x2": {"datum": 0.846}, "y": {"datum": -0.1033, "axis": null}}},
   {"mark": {"type": "rule", "color": "#A2142F", "strokeWidth": 4},
    "encoding": {"x": {"datum": 0.2, "axis": null}, "x2": {"datum": 0.846}, "y": {"datum": -0.1605, "axis": null}}},
   {"mark": {"type": "circle", "color": "#A2142F", "size": 380, "opacity": 1},
    "encoding": {"x": {"datum": 0.522, "axis": null}, "y": {"datum": -0.1605, "axis": null}}},
   {"mark": {"type": "text", "text": "s(x)", "fontSize": 60}, "encoding": {"x": {"datum": 0.9, "axis": null}, "y": {"datum": -0.1193, "axis": null}}},
   {"mark": {"type": "text", "text": "s", "fontSize": 60}, "encoding": {"x": {"datum": 0.9, "axis": null}, "y": {"datum": -0.1658, "axis": null}}},
   {"mark": {"type": "text", "text": "rec", "fontSize": 50}, "encoding": {"x": {"datum": 0.9904, "axis": null}, "y": {"datum": -0.1837, "axis": null}}},
   {"mark": {"type": "text", "text": "(x)", "fontSize": 60}, "encoding": {"x": {"datum": 1.1997, "axis": null}, "y": {"datum": -0.1658, "axis": null}}},
   {"mark": {"type": "text", "text": "(c)", "fontSize": 100}, "encoding": {"x": {"datum": -1.373, "axis": null}, "y": {"datum": 0.138, "axis": null}}}
  ],
  "resolve": {"axis": {"x": "independent", "y": "independent"}}
 },
 {
  "width": 1003, "height": 728,
  "data": {"values": [{}]},
  "layer": [
   {"data": {"name": "qd"},
    "mark": {"type": "line", "color": "#0072BD", "strokeWidth": 9, "strokeJoin": "round", "strokeCap": "round"},
    "encoding": {
     "x": {"field": "q", "type": "quantitative", "scale": {"domain": [-25, 25], "nice": false, "zero": false},
       "axis": {"values": [-20, -10, 0, 10, 20], "title": "qₓ (1/μm)", "labelExpr": "datum.value < 0 ? '-' + format(-datum.value, '~g') : format(datum.value, '~g')"}},
     "y": {"field": "u", "type": "quantitative", "scale": {"domain": [-10, 2], "nice": false, "zero": false},
       "axis": {"values": [-10, -5, 0], "title": "Hₑₙᵥ(qₓ) , |U₀(qₓ)|", "labelExpr": "datum.value < 0 ? '-' + format(-datum.value, '~g') : format(datum.value, '~g')"}}
    }},
   {"data": {"name": "qd"},
    "mark": {"type": "line", "color": "#A2142F", "strokeWidth": 4.5},
    "encoding": {
     "x": {"field": "q", "type": "quantitative", "axis": {"orient": "top", "values": [-20, -10, 0, 10, 20], "labels": false, "title": null}},
     "y": {"field": "h", "type": "quantitative", "axis": {"orient": "right", "values": [-10, -5, 0], "labels": false, "title": null}}
    }},
   {"data": {"name": "qd"},
    "mark": {"type": "circle", "color": "#A2142F", "size": 420, "opacity": 1},
    "encoding": {"x": {"field": "q", "type": "quantitative", "axis": null}, "y": {"field": "h", "type": "quantitative", "axis": null}}},
   {"data": {"name": "hq"},
    "mark": {"type": "line", "color": "black", "strokeWidth": 6.5, "strokeDash": [43, 16, 11, 16], "clip": true},
    "encoding": {"x": {"field": "q", "type": "quantitative", "axis": null}, "y": {"field": "H", "type": "quantitative", "axis": null}}},
   {"mark": {"type": "rect", "fill": "white", "stroke": "#262626", "strokeWidth": 3.5},
    "encoding": {"x": {"datum": -1.88, "axis": null}, "x2": {"datum": 34.9}, "y": {"datum": -6.64, "axis": null}, "y2": {"datum": -0.37}}},
   {"mark": {"type": "rule", "color": "#0072BD", "strokeWidth": 10},
    "encoding": {"x": {"datum": -0.8, "axis": null}, "x2": {"datum": 9.89}, "y": {"datum": -1.52, "axis": null}}},
   {"mark": {"type": "rule", "color": "#A2142F", "strokeWidth": 4.5},
    "encoding": {"x": {"datum": -0.8, "axis": null}, "x2": {"datum": 9.89}, "y": {"datum": -3.5, "axis": null}}},
   {"mark": {"type": "circle", "color": "#A2142F", "size": 420, "opacity": 1},
    "encoding": {"x": {"datum": 4.47, "axis": null}, "y": {"datum": -3.5, "axis": null}}},
   {"mark": {"type": "rule", "color": "black", "strokeWidth": 8, "strokeDash": [80, 26, 16, 26]},
    "encoding": {"x": {"datum": -0.8, "axis": null}, "x2": {"datum": 9.89}, "y": {"datum": -5.49, "axis": null}}},
   {"mark": {"type": "text", "text": "|U", "fontSize": 66}, "encoding": {"x": {"datum": 10.83, "axis": null}, "y": {"datum": -1.91, "axis": null}}},
   {"mark": {"type": "text", "text": "0", "fontSize": 50}, "encoding": {"x": {"datum": 14.065, "axis": null}, "y": {"datum": -2.22, "axis": null}}},
   {"mark": {"type": "text", "text": "(q", "fontSize": 66}, "encoding": {"x": {"datum": 15.453, "axis": null}, "y": {"datum": -1.91, "axis": null}}},
   {"mark": {"type": "text", "text": "x", "fontSize": 50}, "encoding": {"x": {"datum": 18.383, "axis": null}, "y": {"datum": -2.22, "axis": null}}},
   {"mark": {"type": "text", "text": ")|", "fontSize": 66}, "encoding": {"x": {"datum": 19.631, "axis": null}, "y": {"datum": -1.91, "axis": null}}},
   {"mark": {"type": "text", "text": "H", "fontSize": 66}, "encoding": {"x": {"datum": 10.83, "axis": null}, "y": {"datum": -3.9, "axis": null}}},
   {"mark": {"type": "text", "text": "env", "fontSize": 50}, "encoding": {"x": {"datum": 13.209, "axis": null}, "y": {"datum": -4.21, "axis": null}}},
   {"mark": {"type": "text", "text": "(q", "fontSize": 66}, "encoding": {"x": {"datum": 17.233, "axis": null}, "y": {"datum": -3.9, "axis": null}}},
   {"mark": {"type": "text", "text": "x", "fontSize": 50}, "encoding": {"x": {"datum": 20.163, "axis": null}, "y": {"datum": -4.21, "axis": null}}},
   {"mark": {"type": "text", "text": ")|U", "fontSize": 66}, "encoding": {"x": {"datum": 21.411, "axis": null}, "y": {"datum": -3.9, "axis": null}}},
   {"mark": {"type": "text", "text": "0", "fontSize": 50}, "encoding": {"x": {"datum": 25.744, "axis": null}, "y": {"datum": -4.21, "axis": null}}},
   {"mark": {"type": "text", "text": "(q", "fontSize": 66}, "encoding": {"x": {"datum": 27.132, "axis": null}, "y": {"datum": -3.9, "axis": null}}},
   {"mark": {"type": "text", "text": "x", "fontSize": 50}, "encoding": {"x": {"datum": 30.062, "axis": null}, "y": {"datum": -4.21, "axis": null}}},
   {"mark": {"type": "text", "text": ")|", "fontSize": 66}, "encoding": {"x": {"datum": 31.31, "axis": null}, "y": {"datum": -3.9, "axis": null}}},
   {"mark": {"type": "text", "text": "H", "fontSize": 66}, "encoding": {"x": {"datum": 10.83, "axis": null}, "y": {"datum": -5.89, "axis": null}}},
   {"mark": {"type": "text", "text": "env", "fontSize": 50}, "encoding": {"x": {"datum": 13.209, "axis": null}, "y": {"datum": -6.2, "axis": null}}},
   {"mark": {"type": "text", "text": "(q", "fontSize": 66}, "encoding": {"x": {"datum": 17.233, "axis": null}, "y": {"datum": -5.89, "axis": null}}},
   {"mark": {"type": "text", "text": "x", "fontSize": 50}, "encoding": {"x": {"datum": 20.163, "axis": null}, "y": {"datum": -6.2, "axis": null}}},
   {"mark": {"type": "text", "text": ")", "fontSize": 66}, "encoding": {"x": {"datum": 21.411, "axis": null}, "y": {"datum": -5.89, "axis": null}}},
   {"mark": {"type": "text", "text": "q", "fontSize": 72}, "encoding": {"x": {"datum": -9.97, "axis": null}, "y": {"datum": -9.08, "axis": null}}},
   {"mark": {"type": "text", "text": "z", "fontSize": 50}, "encoding": {"x": {"datum": -7.91, "axis": null}, "y": {"datum": -9.67, "axis": null}}},
   {"mark": {"type": "text", "text": "= 19.0 μm", "fontSize": 72}, "encoding": {"x": {"datum": -5.65, "axis": null}, "y": {"datum": -9.08, "axis": null}}},
   {"mark": {"type": "text", "text": "-1", "fontSize": 50}, "encoding": {"x": {"datum": 10.74, "axis": null}, "y": {"datum": -8.6, "axis": null}}},
   {"mark": {"type": "text", "text": "(d)", "fontSize": 100}, "encoding": {"x": {"datum": -24.19, "axis": null}, "y": {"datum": 0.46, "axis": null}}}
  ],
  "resolve": {"axis": {"x": "independent", "y": "independent"}}
 }
]
}
